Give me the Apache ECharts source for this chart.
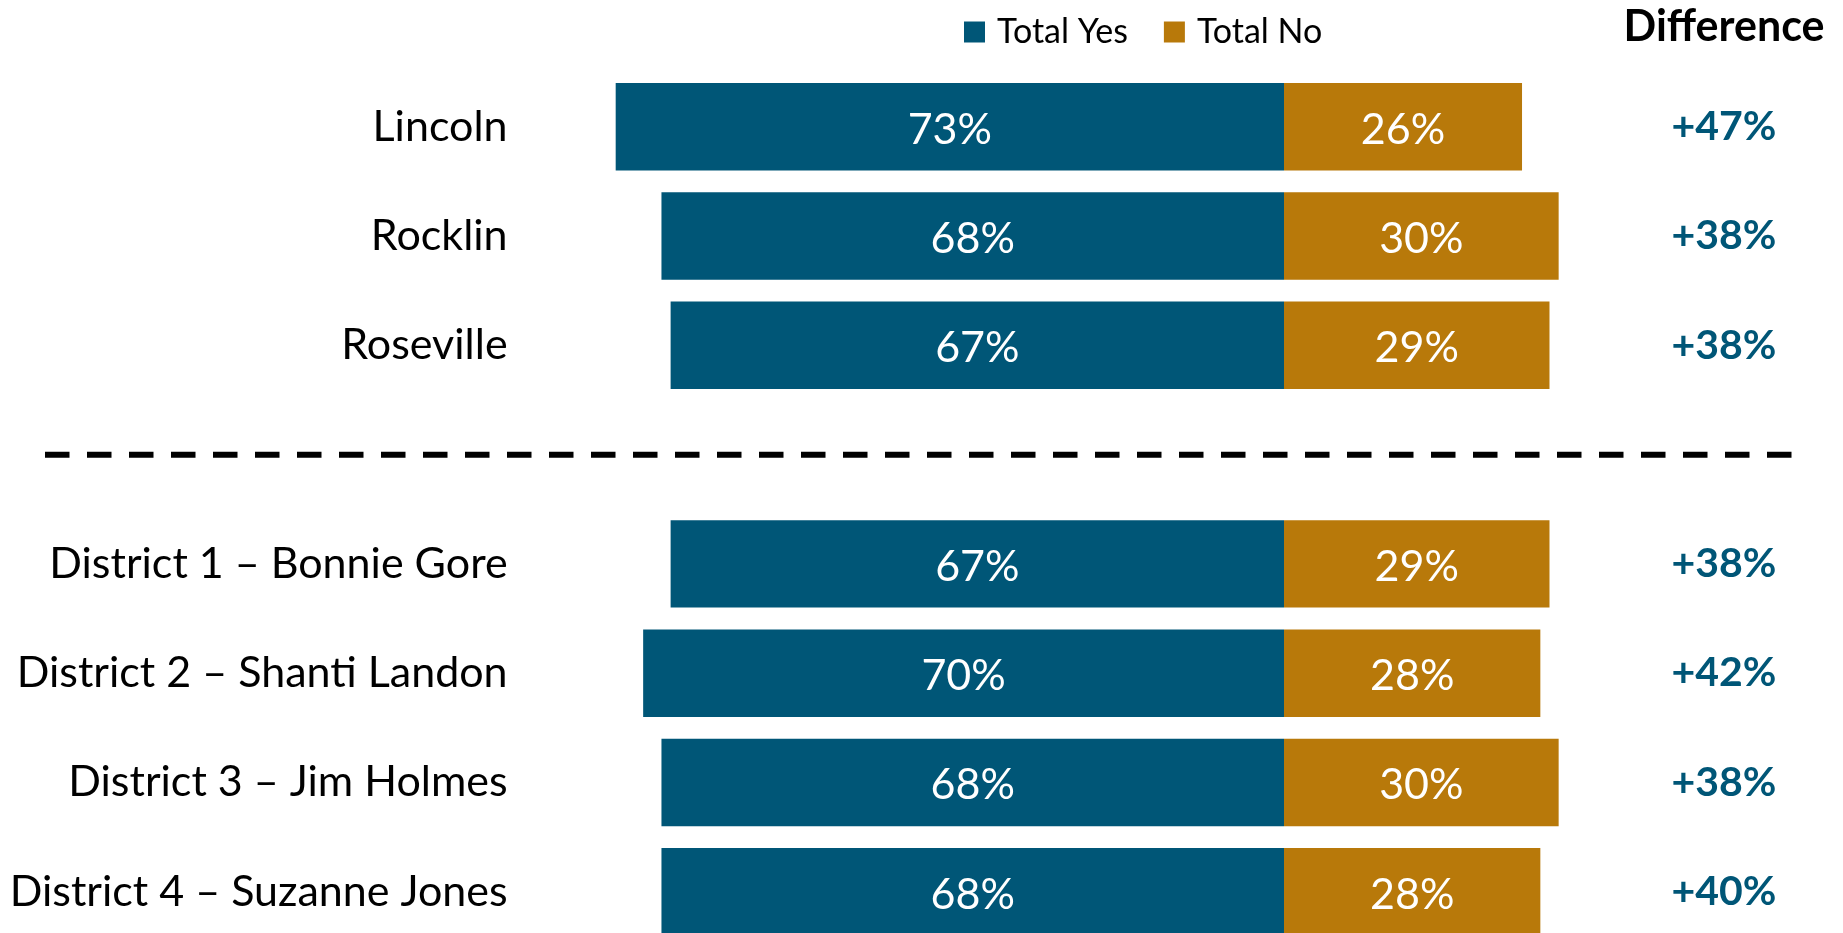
<!DOCTYPE html>
<html>
<head>
<meta charset="utf-8">
<script src="https://cdn.jsdelivr.net/npm/echarts@6/dist/echarts.min.js"></script>
<style>
  html, body { margin: 0; padding: 0; background: #fff; }
  #chart { width: 1843px; height: 933px; }
</style>
</head>
<body>
<div id="chart"></div>
<script>
// Rows top to bottom; the empty entry is the spacer row under the dashed separator.
const categories = [
  'Lincoln', 'Rocklin', 'Roseville', '',
  'District 1 – Bonnie Gore', 'District 2 – Shanti Landon',
  'District 3 – Jim Holmes', 'District 4 – Suzanne Jones'
];
const yesValues = [73, 68, 67, null, 67, 70, 68, 68];
const noValues  = [26, 30, 29, null, 29, 28, 30, 28];
const diffValues = [47, 38, 38, null, 38, 42, 38, 40];

const YES_COLOR = '#005677';
const NO_COLOR = '#B8790A';
const FONT = 'Lato, "Open Sans", sans-serif';

// Pixel scale of the value axis
const PX_PER_PCT = 9.155;
const ZERO_X = 1284;
const X_MIN = -80, X_MAX = 40;
const gridLeft = ZERO_X + X_MIN * PX_PER_PCT;
const gridWidth = (X_MAX - X_MIN) * PX_PER_PCT;
const rowH = 109.3;
const gridTop = 126.7 - rowH / 2;

const chart = echarts.init(document.getElementById('chart'));

chart.setOption({
  animation: false,
  backgroundColor: '#fff',
  legend: {
    left: 964,
    top: 15,
    padding: 0,
    itemWidth: 21,
    itemHeight: 21,
    itemGap: 36,
    icon: 'rect',
    data: ['Total Yes', 'Total No'],
    textStyle: {
      fontFamily: FONT, fontSize: 34, color: '#000',
      lineHeight: 34, padding: [0, 0, 0, 7]
    }
  },
  grid: {
    left: gridLeft,
    width: gridWidth,
    top: gridTop,
    height: rowH * categories.length,
    outerBoundsMode: 'none'
  },
  xAxis: {
    type: 'value',
    min: X_MIN,
    max: X_MAX,
    show: false,
    splitLine: { show: false }
  },
  yAxis: [
    {
      type: 'category',
      data: categories,
      inverse: true,
      axisLine: { show: false },
      axisTick: { show: false },
      axisLabel: {
        margin: 44,
        padding: [5, 0, 0, 0],
        fontFamily: FONT, fontSize: 43, color: '#000'
      }
    },
    {
      // Difference column on the right
      type: 'category',
      position: 'right',
      data: diffValues.map(d => d == null ? '' : '+' + d + '%'),
      inverse: true,
      axisLine: { show: false },
      axisTick: { show: false },
      axisLabel: {
        margin: 1724 - (gridLeft + gridWidth),
        align: 'center',
        padding: [5, 0, 0, 0],
        fontFamily: FONT, fontSize: 41, fontWeight: 'bold', color: YES_COLOR
      }
    }
  ],
  graphic: [
    {
      type: 'line',
      shape: { x1: 45, y1: 454.7, x2: 1792, y2: 454.7 },
      style: { stroke: '#000', lineWidth: 6, lineDash: [24.5, 17.5] },
      silent: true
    },
    {
      type: 'text',
      x: 1724,
      y: 27,
      style: {
        text: 'Difference',
        fontFamily: FONT, fontSize: 43, fontWeight: 'bold', fill: '#000',
        align: 'center', verticalAlign: 'middle'
      },
      silent: true
    }
  ],
  series: [
    {
      name: 'Total Yes',
      type: 'bar',
      stack: 'total',
      barCategoryGap: '20%',
      data: yesValues.map(v => v == null ? null : -v),
      itemStyle: { color: YES_COLOR },
      label: {
        show: true,
        position: 'inside',
        offset: [0, 3],
        formatter: p => Math.abs(p.value) + '%',
        fontFamily: FONT, fontSize: 43, color: '#fff'
      }
    },
    {
      name: 'Total No',
      type: 'bar',
      stack: 'total',
      barCategoryGap: '20%',
      data: noValues,
      itemStyle: { color: NO_COLOR },
      label: {
        show: true,
        position: 'inside',
        offset: [0, 3],
        formatter: p => p.value + '%',
        fontFamily: FONT, fontSize: 43, color: '#fff'
      }
    }
  ]
});
</script>
</body>
</html>
